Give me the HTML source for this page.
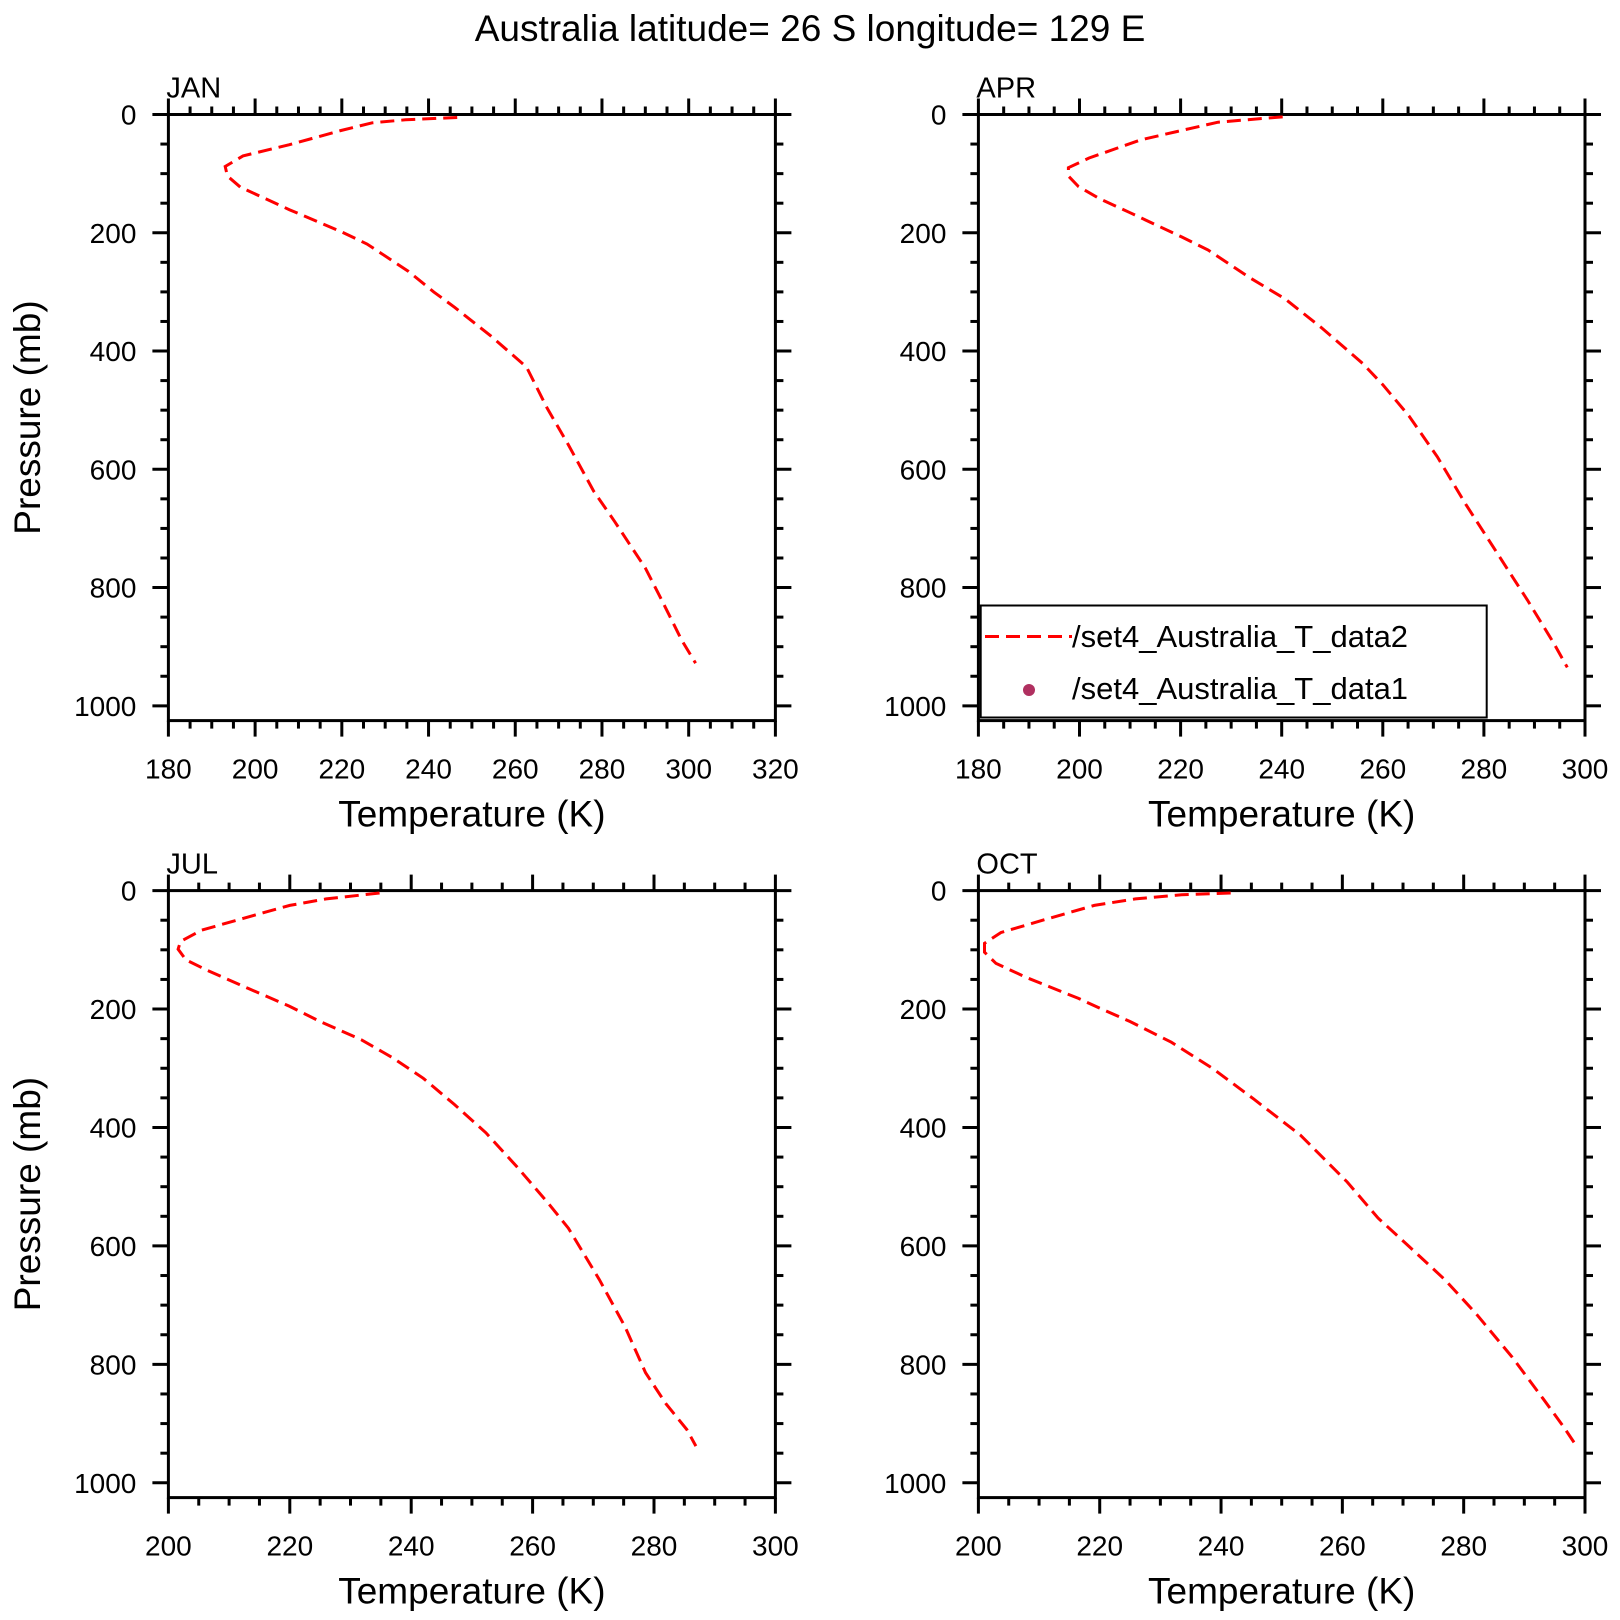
<!DOCTYPE html>
<html><head><meta charset="utf-8"><style>
html,body{margin:0;padding:0;background:#fff;}
svg{display:block;font-family:"Liberation Sans",sans-serif;}
</style></head><body>
<svg id="chart" width="1620" height="1620" viewBox="0 0 1620 1620" xmlns="http://www.w3.org/2000/svg">
<text x="810" y="41" font-size="37" text-anchor="middle">Australia  latitude= 26 S longitude= 129 E</text>
</svg>
<script>
const janP=[5,9,14,27,51,70,88,104,123,161,198,219,265,300,326,374,427,497,558,637,688,767,820,889,928];
const janT=[246.6,234.7,227,219.8,207.9,197.2,193.1,193.6,196.6,207.9,219.8,225.8,235.3,241.2,246,254.3,262.6,267.4,272.2,278.1,282.9,290,293.7,298.4,301.6];
const aprP=[4,6.5,13,29,43,73.5,90,104,122,142,166,207,229,275,312,360,421,457,510,579,659,740,821,894,935];
const aprT=[240.2,236.6,227.4,219.2,212.1,201.9,197.8,197.8,199.8,203.9,210,220.2,225.4,233.5,240.7,247.8,256,260,265.2,270.8,276.4,282.5,288.6,293.8,296.5];
const julP=[4,14,25,47,67,86,99,117,134,165,195,221,252,282,317,361,409,466,527,570,657,736,814,867,910,938];
const julT=[234.8,226,220,212.3,205.4,202,201.6,202.9,206.3,213.1,219.9,225,231.8,236.9,242,247.1,252.3,257.4,262.5,265.9,271,275.2,278.6,282,285.4,286.9];
const octP=[4,7,14,25,50,71,89,104,123,147,182,198,221,256,300,352,413,492,553,601,657,714,788,858,906,932];
const octT=[241.6,233.5,225.9,219.1,210.6,203.7,201,201,202.9,208,216.5,219.9,225,231.8,238.6,245.4,253.1,260.8,265.9,271,276.9,282,288,293.1,296.5,298.2];
const panelNames=["JAN","APR","JUL","OCT"];
const xMins=[180,180,200,200];
const xMaxs=[320,300,300,300];
const yTicks=[0,200,400,600,800,1000];

const NS="http://www.w3.org/2000/svg";
const svg=document.getElementById('chart');
function mk(tag,attrs,parent){const e=document.createElementNS(NS,tag);for(const k in attrs)e.setAttribute(k,attrs[k]);(parent||svg).appendChild(e);return e;}
const series=[[janT,janP],[aprT,aprP],[julT,julP],[octT,octP]];
const boxes=[[168.4,114.5,775.4,720.6],[978.4,114.5,1585,720.6],[168.4,890.6,775.4,1497.6],[978.4,890.6,1585,1497.6]];
const YMAX=1025;
boxes.forEach((b,i)=>{
  const [L,T,R,B]=b;
  const g=mk('g',{});
  
  
  const xs=v=>L+(v-xMins[i])/(xMaxs[i]-xMins[i])*(R-L);
  const ys=v=>T+v/YMAX*(B-T);
  // ticks
  for(let v=xMins[i];v<=xMaxs[i];v+=5){
    const major=(v%20===0);const len=major?16:8;const x=xs(v);
    mk('line',{x1:x,y1:T,x2:x,y2:T-len,stroke:'#000','stroke-width':3},g);
    mk('line',{x1:x,y1:B,x2:x,y2:B+len,stroke:'#000','stroke-width':3},g);
    if(major){const t=mk('text',{x:x,y:778,'font-size':28,'text-anchor':'middle'},g);t.setAttribute('y',B+58);t.textContent=v;
      }
  }
  for(let v=0;v<=1000;v+=50){
    const major=(v%200===0);const len=major?16:8;const y=ys(v);
    mk('line',{x1:L,y1:y,x2:L-len,y2:y,stroke:'#000','stroke-width':3},g);
    mk('line',{x1:R,y1:y,x2:R+len,y2:y,stroke:'#000','stroke-width':3},g);
  }
  yTicks.forEach(v=>{const t=mk('text',{x:L-32,y:ys(v)+10,'font-size':28,'text-anchor':'end'},g);t.textContent=v;
    });
  const fr=mk('rect',{x:L,y:T,width:R-L,height:B-T,fill:'none',stroke:'#000','stroke-width':3},g);
  
  const ml=mk('text',{x:L-2,y:T-17,'font-size':29},g);ml.textContent=panelNames[i];
  
  const xt=mk('text',{x:(L+R)/2,y:B+106,'font-size':37,'text-anchor':'middle'},g);xt.textContent='Temperature (K)';
  
  if(i%2===0){const yt=mk('text',{x:0,y:0,'font-size':37,'text-anchor':'middle',transform:`translate(40,${(T+B)/2}) rotate(-90)`},g);yt.textContent='Pressure (mb)';
    }
  const [tt,pp]=series[i];
  const d=tt.map((t,k)=>(k?'L':'M')+xs(t).toFixed(1)+','+ys(pp[k]).toFixed(1)).join(' ');
  const p=mk('path',{d:d,fill:'none',stroke:'#ff0000','stroke-width':3,'stroke-dasharray':'14,7'},g);
  
});
// legend
const lg=mk('g',{});


mk('rect',{x:980.7,y:605.5,width:506,height:112,fill:'#fff',stroke:'#000','stroke-width':2},lg);
mk('line',{x1:985,y1:636.5,x2:1072,y2:636.5,stroke:'#ff0000','stroke-width':3,'stroke-dasharray':'14,7'},lg);
const l1=mk('text',{x:1072,y:647,'font-size':31},lg);l1.textContent='/set4_Australia_T_data2';

mk('circle',{cx:1029,cy:690,r:6,fill:'#b03060'},lg);
const l2=mk('text',{x:1072,y:699,'font-size':31},lg);l2.textContent='/set4_Australia_T_data1';

</script>
</body></html>
